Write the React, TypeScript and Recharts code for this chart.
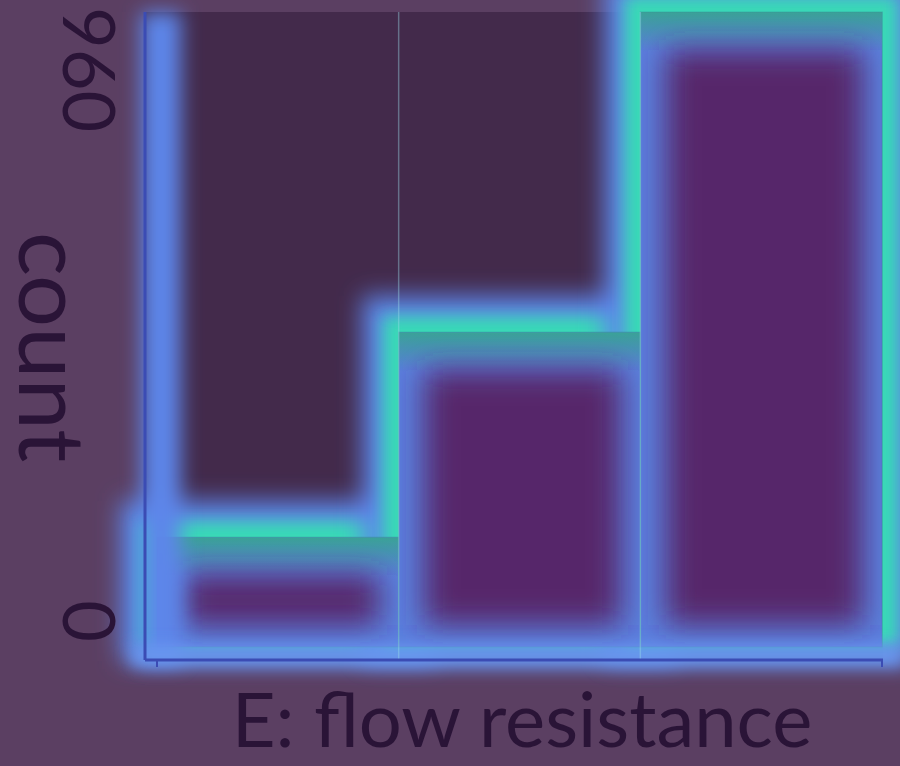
import React from "react";
import { BarChart, Bar, XAxis, YAxis, CartesianGrid, ReferenceLine } from "recharts";

// histogram bins (centres on a 0..3 bin index scale) and their counts
const binCenters = [0.5, 1.5, 2.5];
const binEdges = [1, 2];
const counts = [166, 476, 960];
const yTicks = [0, 960];
const xTicks = [0, 3];
const xLabel = "E: flow resistance";
const yLabel = "count";

const data = binCenters.map((x, i) => ({ x, count: counts[i] }));

const BG = "#5b3f62";
const PLOT = "#432a4b";
const INK = "#2a1437";
const TEAL = "#38dab6";
const BLUE = "#5d86ea";
const CORE = "#57266a";
const AXIS = "#3b4cb4";
const FONT = "Lato, 'Open Sans', sans-serif";

const HaloShape = (props: any) => {
    const { x, y, width, height } = props;
    if (!height) return null;
    return (
        <g>
            <rect x={x - 36} y={y - 36} width={width + 72} height={height + 50} fill={BLUE} filter="url(#blurWide)" />
            <rect x={x - 16} y={y - 16} width={width + 32} height={height + 16} fill={TEAL} filter="url(#blurNarrow)" />
        </g>
    );
};

const FillShape = (props: any) => {
    const { x, y, width, height, index } = props;
    if (!height) return null;
    const clipId = `barclip-${index}`;
    const gradId = `bartop-${index}`;
    return (
        <g>
            <defs>
                <clipPath id={clipId}>
                    <rect x={x} y={y} width={width} height={height} />
                </clipPath>
                <linearGradient id={gradId} gradientUnits="userSpaceOnUse" x1={0} y1={y} x2={0} y2={y + 40}>
                    <stop offset="0%" stopColor="#3aa297" stopOpacity={1} />
                    <stop offset="100%" stopColor="#3aa297" stopOpacity={0} />
                </linearGradient>
            </defs>
            <g clipPath={`url(#${clipId})`}>
                <rect x={x} y={y} width={width} height={height} fill="#5a7edd" />
                <rect x={x} y={y} width={width} height={height} fill={`url(#${gradId})`} />
                <rect
                    x={x + 26}
                    y={y + 38}
                    width={width - 46}
                    height={height - 60}
                    fill={CORE}
                    filter="url(#blurCore)"
                />
            </g>
            <rect x={x} y={y} width={width} height={height} fill="none" stroke="#3a8f98" strokeOpacity={0.5} />
        </g>
    );
};

const YTick = (props: any) => {
    const { y, payload } = props;
    const isTop = payload.value === yTicks[yTicks.length - 1];
    return (
        <text
            transform={`translate(63, ${y - 5}) rotate(90)`}
            textAnchor={isTop ? "start" : "end"}
            fontSize={72}
            fontFamily={FONT}
            fill={INK}
        >
            {payload.value}
        </text>
    );
};

const YGlow = (props: any) => {
    const { x1, y1, x2, y2 } = props;
    return <line x1={x1 + 4} y1={y1 + 4} x2={x2 + 4} y2={y2} stroke={BLUE} strokeWidth={40} filter="url(#blurAxis)" />;
};

const XGlow = (props: any) => {
    const { x1, y1, x2, y2 } = props;
    return <line x1={x1 - 14} y1={y1 + 9} x2={x2 + 20} y2={y2 + 9} stroke="#6a98f2" strokeWidth={20} filter="url(#blurNarrow)" />;
};

export default function App() {
    return (
        <div style={{ position: "absolute", left: 0, top: 0, width: 900, height: 766, background: BG }}>
            <BarChart
                width={900}
                height={766}
                data={data}
                margin={{ top: 12, right: 17, bottom: 0, left: 0 }}
                barCategoryGap={0}
                barGap={0}
            >
                <defs>
                    <filter id="blurWide" filterUnits="userSpaceOnUse" x={-100} y={-100} width={1100} height={970}>
                        <feGaussianBlur stdDeviation={12} />
                    </filter>
                    <filter id="blurNarrow" filterUnits="userSpaceOnUse" x={-100} y={-100} width={1100} height={970}>
                        <feGaussianBlur stdDeviation={8} />
                    </filter>
                    <filter id="blurCore" filterUnits="userSpaceOnUse" x={-100} y={-100} width={1100} height={970}>
                        <feGaussianBlur stdDeviation={15} />
                    </filter>
                    <filter id="blurAxis" filterUnits="userSpaceOnUse" x={-100} y={-100} width={1100} height={970}>
                        <feGaussianBlur stdDeviation={10} />
                    </filter>
                </defs>
                <CartesianGrid horizontal={false} vertical={false} fill={PLOT} />
                <XAxis
                    type="number"
                    dataKey="x"
                    domain={[0, 3]}
                    ticks={xTicks}
                    tickCount={4}
                    allowDecimals={false}
                    padding={{ left: 12, right: 1 }}
                    height={106}
                    axisLine={{ stroke: AXIS, strokeWidth: 3 }}
                    tickLine={{ stroke: AXIS, strokeWidth: 2 }}
                    tickSize={7}
                    tick={() => <g />}
                    label={{
                        content: (p: any) => (
                            <text
                                x={p.viewBox.x + p.viewBox.width / 2 + 8}
                                y={p.viewBox.y + 87}
                                textAnchor="middle"
                                fontSize={76}
                                fontFamily={FONT}
                                fill={INK}
                            >
                                {xLabel}
                            </text>
                        ),
                    }}
                />
                <XAxis
                    xAxisId="halo"
                    type="number"
                    dataKey="x"
                    domain={[0, 3]}
                    tickCount={4}
                    allowDecimals={false}
                    padding={{ left: 12, right: 1 }}
                    hide
                />
                <YAxis
                    width={145}
                    domain={[0, 960]}
                    ticks={yTicks}
                    interval={0}
                    padding={{ bottom: 13 }}
                    axisLine={{ stroke: AXIS, strokeWidth: 3 }}
                    tickLine={false}
                    tick={<YTick />}
                    label={{
                        content: (p: any) => (
                            <text
                                transform={`translate(19, ${p.viewBox.y + p.viewBox.height / 2 + 11}) rotate(90)`}
                                textAnchor="middle"
                                fontSize={92}
                                fontFamily={FONT}
                                fill={INK}
                            >
                                {yLabel}
                            </text>
                        ),
                    }}
                />
                <Bar xAxisId="halo" dataKey="count" shape={<HaloShape />} isAnimationActive={false} />
                <Bar dataKey="count" shape={<FillShape />} isAnimationActive={false} />
                <ReferenceLine x={0} shape={<YGlow />} />
                <ReferenceLine y={0} shape={<XGlow />} />
                {binEdges.map((e) => (
                    <ReferenceLine key={e} x={e} stroke="#9adbe8" strokeOpacity={0.4} strokeWidth={1.5} />
                ))}
            </BarChart>
        </div>
    );
}
